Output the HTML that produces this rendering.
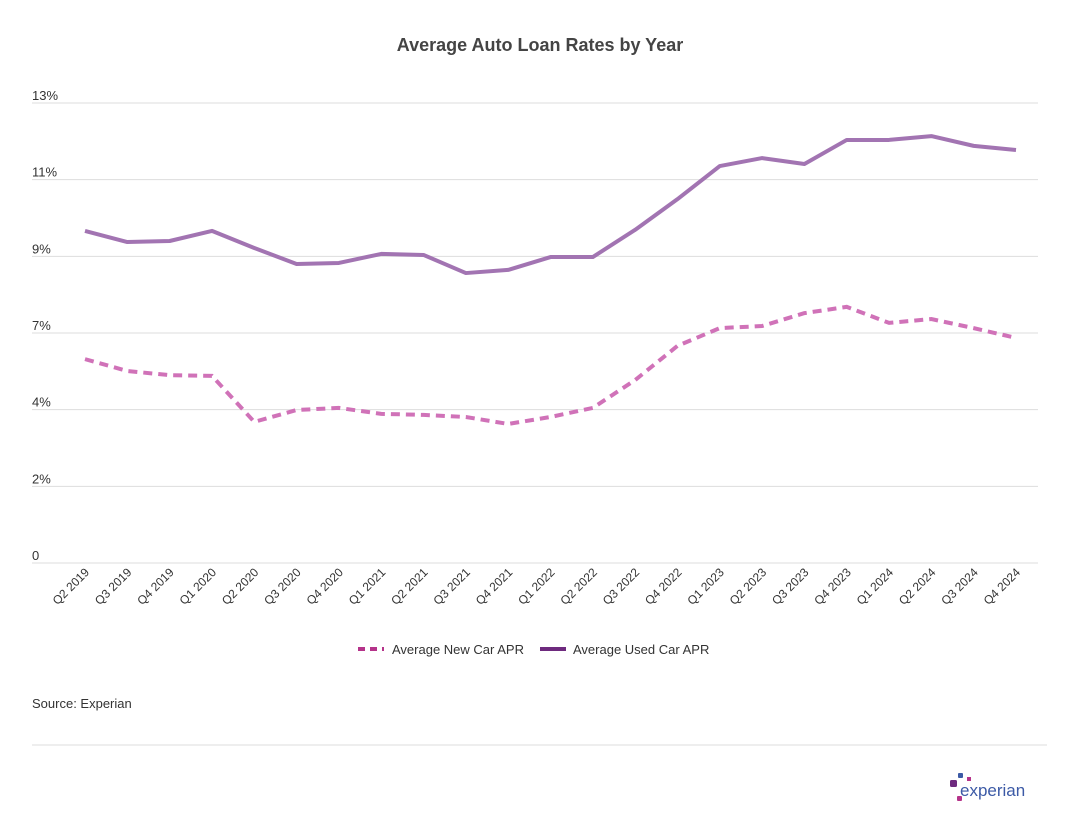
<!DOCTYPE html>
<html><head><meta charset="utf-8"><style>
body{margin:0;background:#fff;font-family:"Liberation Sans",sans-serif;}
</style></head><body>
<svg width="1080" height="832" xmlns="http://www.w3.org/2000/svg" id="svg">
<text x="540" y="51" text-anchor="middle" font-size="18" font-weight="bold" fill="#444">Average Auto Loan Rates by Year</text>
<g id="grid"></g><g id="xl"></g><g id="lines"></g>
<g>
<g><line x1="358" y1="649" x2="384" y2="649" stroke="#b5338a" stroke-width="4" stroke-dasharray="7,5"/><text x="392" y="654" font-size="13" fill="#333">Average New Car APR</text></g>
<g><line x1="540" y1="649" x2="566" y2="649" stroke="#6e2a7e" stroke-width="4"/><text x="573" y="654" font-size="13" fill="#333">Average Used Car APR</text></g>
</g>
<text x="32" y="708" font-size="13" fill="#333">Source: Experian</text>
<line x1="32" y1="745" x2="1047" y2="745" stroke="#ddd"/>
<g><rect x="950" y="780" width="7" height="7" rx="1.5" fill="#6e2a7e"/><rect x="958" y="773" width="5" height="5" rx="1" fill="#3c5aa6"/><rect x="957" y="796" width="5" height="5" rx="1" fill="#b5338a"/><rect x="967" y="777" width="4" height="4" fill="#b5338a"/><text x="960" y="796" font-size="17" fill="#3c5aa6">experian</text></g>
</svg>
<script>
const categories=["Q2 2019","Q3 2019","Q4 2019","Q1 2020","Q2 2020","Q3 2020","Q4 2020","Q1 2021","Q2 2021","Q3 2021","Q4 2021","Q1 2022","Q2 2022","Q3 2022","Q4 2022","Q1 2023","Q2 2023","Q3 2023","Q4 2023","Q1 2024","Q2 2024","Q3 2024","Q4 2024"];
const usedApr=[9.53,9.21,9.24,9.53,9.04,8.58,8.61,8.87,8.84,8.32,8.41,8.78,8.78,9.56,10.44,11.39,11.62,11.45,12.14,12.14,12.25,11.97,11.85];
const newApr=[5.85,5.51,5.39,5.37,4.05,4.39,4.45,4.28,4.25,4.19,3.99,4.19,4.45,5.25,6.23,6.74,6.80,7.17,7.35,6.89,7.0,6.74,6.46];
const tickValues=[0,2.2,4.4,6.6,8.8,11,13.2];
const tickLabels=["0","2%","4%","7%","9%","11%","13%"];
const NS="http://www.w3.org/2000/svg";
const y=v=>563-v*(460/13.2);
const x=i=>85+i*(1016-85)/(categories.length-1);
function mk(t,a,p){const e=document.createElementNS(NS,t);for(const k in a)e.setAttribute(k,a[k]);p.appendChild(e);return e;}
const grid=document.getElementById('grid');
tickValues.forEach((v,i)=>{
 const l=mk('line',{x1:32,x2:1038,y1:y(v),y2:y(v),stroke:'#ddd'},grid);
 
 
 const t=mk('text',{x:32,y:y(v)-3,'font-size':13,fill:'#333'},grid);t.textContent=tickLabels[i];
 
 
});
const xl=document.getElementById('xl');
categories.forEach((c,i)=>{
 const t=mk('text',{x:x(i)+5,y:573,'font-size':12,fill:'#333','text-anchor':'end',transform:`rotate(-45 ${x(i)+5} 573)`},xl);t.textContent=c;
 
 
});
const lines=document.getElementById('lines');
const pts=a=>a.map((v,i)=>x(i)+','+y(v)).join(' ');
const u=mk('polyline',{points:pts(usedApr),fill:'none',stroke:'#a274b2',"stroke-width":4,"stroke-linejoin":"round"},lines);


const n=mk('polyline',{points:pts(newApr),fill:'none',stroke:'#d072b8',"stroke-width":4,"stroke-dasharray":"9,6"},lines);


</script>
</body></html>
